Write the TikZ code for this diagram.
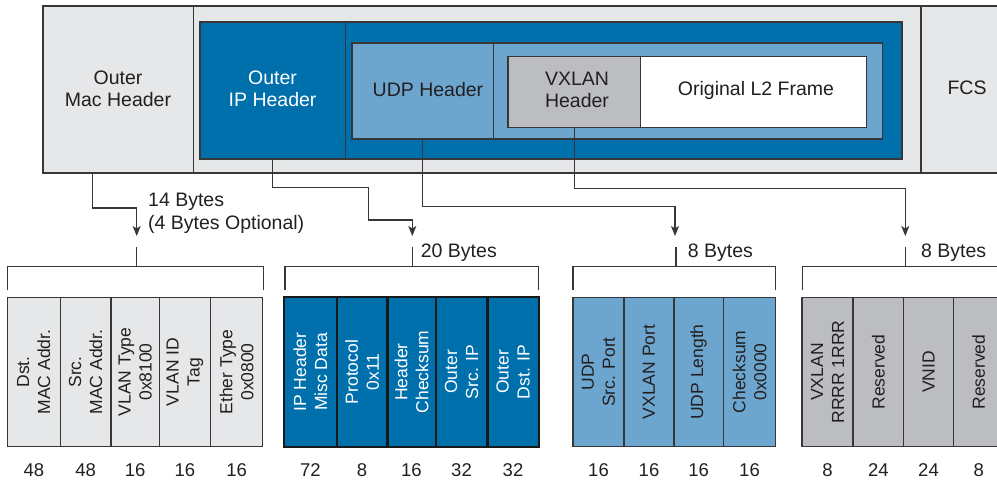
\documentclass[tikz,border=0pt]{standalone}
\usepackage{fontspec}
\setmainfont{Liberation Sans}
\usetikzlibrary{arrows.meta}

\definecolor{shell}{RGB}{230,231,232}
\definecolor{ipblue}{RGB}{0,112,173}
\definecolor{udpblue}{RGB}{108,166,207}
\definecolor{vxgray}{RGB}{188,189,192}
\definecolor{ink}{RGB}{35,31,32}
\definecolor{edge}{RGB}{55,55,55}

\tikzset{
  blk/.style={draw=edge, line width=1.3pt, anchor=north west, inner sep=0pt, outer sep=0pt},
  lbl/.style={font=\fontsize{19.5}{22.5}\selectfont, text=ink, align=center, inner sep=0pt},
  wlbl/.style={lbl, text=white},
  fbox/.style={blk, line width=1.4pt, minimum height=149.4pt},
  ipfbox/.style={fbox, draw=black!90, line width=2.4pt},
  ftext/.style={font=\fontsize{17.5}{21}\selectfont, align=center, rotate=90, inner sep=0pt},
  num/.style={font=\fontsize{18.5}{22}\selectfont, text=ink, inner sep=0pt},
  conn/.style={draw=edge, line width=1.2pt, -{Stealth[length=10pt,width=8pt,inset=2.5pt]}},
  brace/.style={draw=edge, line width=1.3pt},
}

% one field of a header: box, rotated caption, width in bits below
\newcommand\hdrfield[8]{%
  \node[#8, fill=#4, minimum width={(#3-#2)*1pt}] (#1) at (#2,297.3) {};
  \node[ftext, text=#6] (#1-t) at (#1.center) {#5};
  \node[num] (#1-n) at (#1.center |- numrow) {#7};
}

% a bracket spanning a header, with its centre tick
\newcommand\hdrbracket[4]{%
  \coordinate (#1-l) at (#2,290);
  \coordinate (#1-r) at (#4,290);
  \coordinate (#1-m) at (#3,266.7);
  \draw[brace] (#1-l) |- (#1-m) -| (#1-r);
  \draw[brace] (#1-m) -- ++(0,-20);
}

\begin{document}
\begin{tikzpicture}[x=1pt,y=-1pt]
\useasboundingbox (0,0) rectangle (997,481);
\clip (0,0) rectangle (997,481);
\coordinate (numrow) at (0,470);

% ---- encapsulated frame ----
\node[blk, fill=shell, minimum width=150.7pt, minimum height=167pt] (mac) at (43,6) {};
\node[blk, fill=shell, minimum width=727.3pt, minimum height=167pt] (mid) at (193.7,6) {};
\node[blk, fill=shell, minimum width=94pt, minimum height=167pt] (fcs) at (921,6) {};

\node[blk, fill=ipblue, minimum width=145.3pt, minimum height=137pt] (iphdr) at (200,22) {};
\node[blk, fill=ipblue, minimum width=556.7pt, minimum height=137pt] (ippay) at (345.3,22) {};

\node[blk, fill=udpblue, minimum width=141.3pt, minimum height=96pt] (udphdr) at (352,43) {};
\node[blk, fill=udpblue, minimum width=389.4pt, minimum height=96pt] (udppay) at (493.3,43) {};

\node[blk, fill=vxgray, minimum width=132.7pt, minimum height=71pt] (vxhdr) at (508,56.7) {};
\node[blk, fill=white, minimum width=226pt, minimum height=71pt] (l2) at (640.7,56.7) {};

\node[lbl] (mac-t) at (118,89) {Outer\\Mac Header};
\node[wlbl] (iphdr-t) at (272.6,89) {Outer\\IP Header};
\node[lbl] (udphdr-t) at (428,90) {UDP Header};
\node[lbl] (vxhdr-t) at (577,90) {VXLAN\\Header};
\node[lbl] (l2-t) at (756,90) {Original L2 Frame};
\node[lbl] (fcs-t) at (967,88) {FCS};

% ---- header layouts ----
\hdrbracket{b1}{7.3}{136.7}{263.3}
\hdrbracket{b2}{285}{412.3}{538.7}
\hdrbracket{b3}{573}{676}{775.3}
\hdrbracket{b4}{802.7}{905.3}{1012}

\node[lbl, align=left, anchor=west] (b1-lbl) at (148,213.5) {14 Bytes\\(4 Bytes Optional)};
\node[lbl, anchor=west] (b2-lbl) at (420.7,252.7) {20 Bytes};
\node[lbl, anchor=west] (b3-lbl) at (687.7,252.7) {8 Bytes};
\node[lbl, anchor=west] (b4-lbl) at (921,252.7) {8 Bytes};

% Ethernet
\hdrfield{e1}{7.3}{60.3}{shell}{Dst.\\MAC Addr.}{ink}{48}{fbox}
\hdrfield{e2}{60.3}{111}{shell}{Src.\\MAC Addr.}{ink}{48}{fbox}
\hdrfield{e3}{111}{159.3}{shell}{VLAN Type\\0x8100}{ink}{16}{fbox}
\hdrfield{e4}{159.3}{210.7}{shell}{VLAN ID\\Tag}{ink}{16}{fbox}
\hdrfield{e5}{210.7}{262.7}{shell}{Ether Type\\0x0800}{ink}{16}{fbox}

% IP
\hdrfield{i1}{284}{336.7}{ipblue}{IP Header\\Misc Data}{white}{72}{ipfbox}
\hdrfield{i2}{336.7}{387.3}{ipblue}{Protocol\\0x11}{white}{8}{ipfbox}
\hdrfield{i3}{387.3}{435.7}{ipblue}{Header\\Checksum}{white}{16}{ipfbox}
\hdrfield{i4}{435.7}{487.3}{ipblue}{Outer\\Src. IP}{white}{32}{ipfbox}
\hdrfield{i5}{487.3}{538.7}{ipblue}{Outer\\Dst. IP}{white}{32}{ipfbox}

% UDP
\hdrfield{u1}{573}{624}{udpblue}{UDP\\Src. Port}{ink}{16}{fbox}
\hdrfield{u2}{624}{674}{udpblue}{VXLAN Port}{ink}{16}{fbox}
\hdrfield{u3}{674}{723.3}{udpblue}{UDP Length}{ink}{16}{fbox}
\hdrfield{u4}{723.3}{775.7}{udpblue}{Checksum\\0x0000}{ink}{16}{fbox}

% VXLAN
\hdrfield{v1}{802}{853}{vxgray}{VXLAN\\RRRR 1RRR}{ink}{8}{fbox}
\hdrfield{v2}{853}{903.7}{vxgray}{Reserved}{ink}{24}{fbox}
\hdrfield{v3}{903.7}{953.3}{vxgray}{VNID}{ink}{24}{fbox}
\hdrfield{v4}{953.3}{1004}{vxgray}{Reserved}{ink}{8}{fbox}

% ---- connectors from the frame to the layouts ----
\coordinate (m1) at (92.7,0);
\coordinate (e1a) at (136.7,236);
\coordinate (e2a) at (412.3,236);
\coordinate (e3a) at (675,236);
\coordinate (e4a) at (905.3,236);

\draw[conn] (mac.south -| m1) -- ++(0,35) -| (e1a);
\draw[conn] (iphdr.south) -- ++(0,28.7) -| ++(96,32.3) -| (e2a);
\draw[conn] (udphdr.south) -- ++(0,67.7) -| (e3a);
\draw[conn] (vxhdr.south) -- ++(0,60.6) -| (e4a);
\end{tikzpicture}
\end{document}
